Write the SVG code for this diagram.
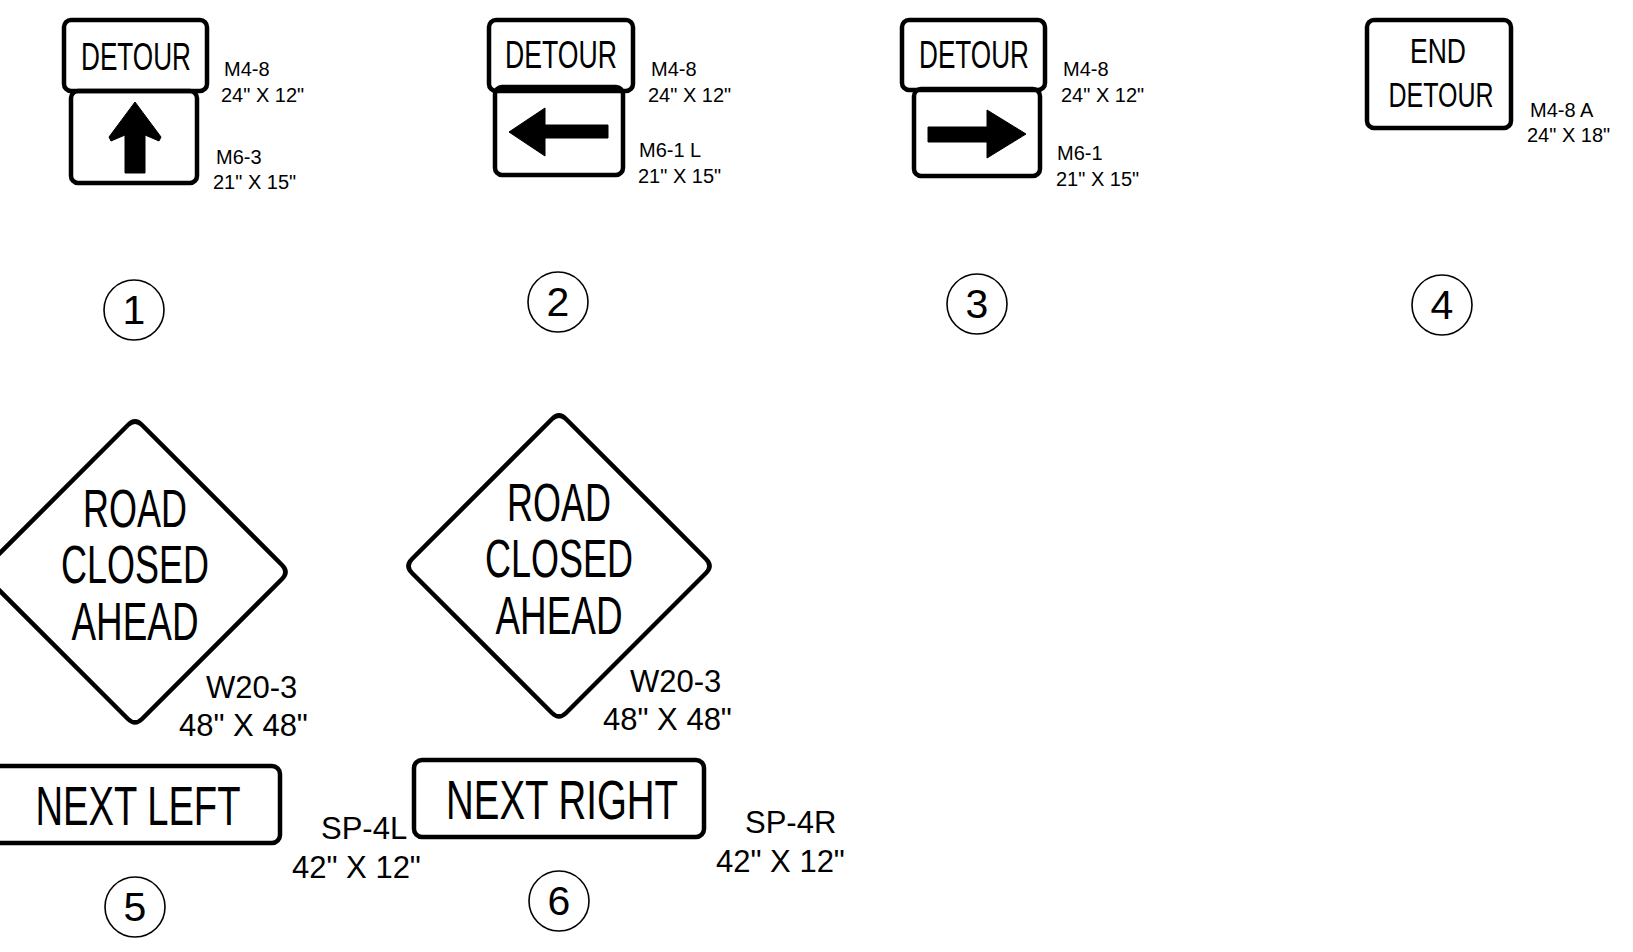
<svg xmlns="http://www.w3.org/2000/svg" width="1633" height="952" viewBox="0 0 1633 952">
<style>
.box{fill:none;stroke:#000;stroke-width:4.5;stroke-linejoin:round}
.dia{fill:#fff;stroke:#000;stroke-width:4.5;stroke-linejoin:round}
.arr{fill:#000;stroke:#000;stroke-width:1;stroke-linejoin:round}
.num{fill:none;stroke:#000;stroke-width:1.6}
.sg{font-family:"Liberation Sans",Arial,sans-serif;fill:#000;text-anchor:middle}
.lb{font-family:"Liberation Sans",Arial,sans-serif;fill:#000;font-size:20px}
.lbl{font-family:"Liberation Sans",Arial,sans-serif;fill:#000;font-size:31px}
.nt{font-family:"Liberation Sans",Arial,sans-serif;fill:#000;font-size:41px;text-anchor:middle}
</style>
<rect width="1633" height="952" fill="#fff"/>

<g id="sign1">
<rect class="box" x="64" y="20" width="143" height="71" rx="7"/>
<rect class="box" x="71" y="91" width="126" height="92" rx="7"/>
<text class="sg" x="136" y="70" font-size="39" textLength="110" lengthAdjust="spacingAndGlyphs">DETOUR</text>
<polygon class="arr" points="135,102 161,137 159,141 145,135 145,173 125,173 125,135 111,141 109,137"/>
<text class="lb" x="224" y="76">M4-8</text>
<text class="lb" x="221" y="102">24" X 12"</text>
<text class="lb" x="216" y="164">M6-3</text>
<text class="lb" x="213" y="189">21" X 15"</text>
<circle class="num" cx="134" cy="310" r="30"/>
<text class="nt" x="134" y="324">1</text>
</g>

<g id="sign2">
<rect class="box" x="489" y="20" width="144" height="71" rx="7"/>
<rect class="box" x="495" y="87" width="128" height="88" rx="7"/>
<text class="sg" x="561" y="68" font-size="39" textLength="112" lengthAdjust="spacingAndGlyphs">DETOUR</text>
<polygon class="arr" points="509,132 545,108 545,125 608,125 608,138 545,138 545,156"/>
<text class="lb" x="651" y="76">M4-8</text>
<text class="lb" x="648" y="102">24" X 12"</text>
<text class="lb" x="639" y="157">M6-1 L</text>
<text class="lb" x="638" y="183">21" X 15"</text>
<circle class="num" cx="558" cy="302" r="30"/>
<text class="nt" x="558" y="316">2</text>
</g>

<g id="sign3">
<rect class="box" x="902" y="20" width="143" height="70" rx="7"/>
<rect class="box" x="914" y="89" width="126" height="87" rx="7"/>
<text class="sg" x="974" y="68" font-size="39" textLength="110" lengthAdjust="spacingAndGlyphs">DETOUR</text>
<polygon class="arr" points="1026,134 987,110 987,127 928,127 928,142 987,142 987,158"/>
<text class="lb" x="1063" y="76">M4-8</text>
<text class="lb" x="1061" y="102">24" X 12"</text>
<text class="lb" x="1057" y="160">M6-1</text>
<text class="lb" x="1056" y="186">21" X 15"</text>
<circle class="num" cx="977" cy="304" r="30"/>
<text class="nt" x="977" y="318">3</text>
</g>

<g id="sign4">
<rect class="box" x="1367" y="20" width="144" height="108" rx="7"/>
<text class="sg" x="1438" y="63" font-size="35" textLength="56" lengthAdjust="spacingAndGlyphs">END</text>
<text class="sg" x="1441" y="107" font-size="35" textLength="105" lengthAdjust="spacingAndGlyphs">DETOUR</text>
<text class="lb" x="1530" y="117">M4-8 A</text>
<text class="lb" x="1527" y="142">24" X 18"</text>
<circle class="num" cx="1442" cy="305" r="30"/>
<text class="nt" x="1442" y="319">4</text>
</g>

<g id="sign5">
<path class="dia" d="M142,425 L282,565 Q289,572 282,579 L142,719 Q135,726 128,719 L-12,579 Q-19,572 -12,565 L128,425 Q135,418 142,425 Z"/>
<text class="sg" x="135" y="527" font-size="53" textLength="104" lengthAdjust="spacingAndGlyphs">ROAD</text>
<text class="sg" x="135" y="583" font-size="53" textLength="148" lengthAdjust="spacingAndGlyphs">CLOSED</text>
<text class="sg" x="135" y="640" font-size="53" textLength="127" lengthAdjust="spacingAndGlyphs">AHEAD</text>
<text class="lbl" x="206" y="698">W20-3</text>
<text class="lbl" x="179" y="736">48" X 48"</text>
<rect class="box" x="-10" y="766" width="290" height="77" rx="8"/>
<text class="sg" x="138" y="825" font-size="56" textLength="205" lengthAdjust="spacingAndGlyphs">NEXT LEFT</text>
<text class="lbl" x="321" y="839">SP-4L</text>
<text class="lbl" x="292" y="878">42" X 12"</text>
<circle class="num" cx="135" cy="907" r="30"/>
<text class="nt" x="135" y="921">5</text>
</g>

<g id="sign6" transform="translate(424,-6)">
<path class="dia" d="M142,425 L282,565 Q289,572 282,579 L142,719 Q135,726 128,719 L-12,579 Q-19,572 -12,565 L128,425 Q135,418 142,425 Z"/>
<text class="sg" x="135" y="527" font-size="53" textLength="104" lengthAdjust="spacingAndGlyphs">ROAD</text>
<text class="sg" x="135" y="583" font-size="53" textLength="148" lengthAdjust="spacingAndGlyphs">CLOSED</text>
<text class="sg" x="135" y="640" font-size="53" textLength="127" lengthAdjust="spacingAndGlyphs">AHEAD</text>
<text class="lbl" x="206" y="698">W20-3</text>
<text class="lbl" x="179" y="736">48" X 48"</text>
<rect class="box" x="-10" y="766" width="290" height="77" rx="8"/>
<text class="sg" x="138" y="825" font-size="56" textLength="232" lengthAdjust="spacingAndGlyphs">NEXT RIGHT</text>
<text class="lbl" x="321" y="839">SP-4R</text>
<text class="lbl" x="292" y="878">42" X 12"</text>
<circle class="num" cx="135" cy="907" r="30"/>
<text class="nt" x="135" y="921">6</text>
</g>
</svg>
